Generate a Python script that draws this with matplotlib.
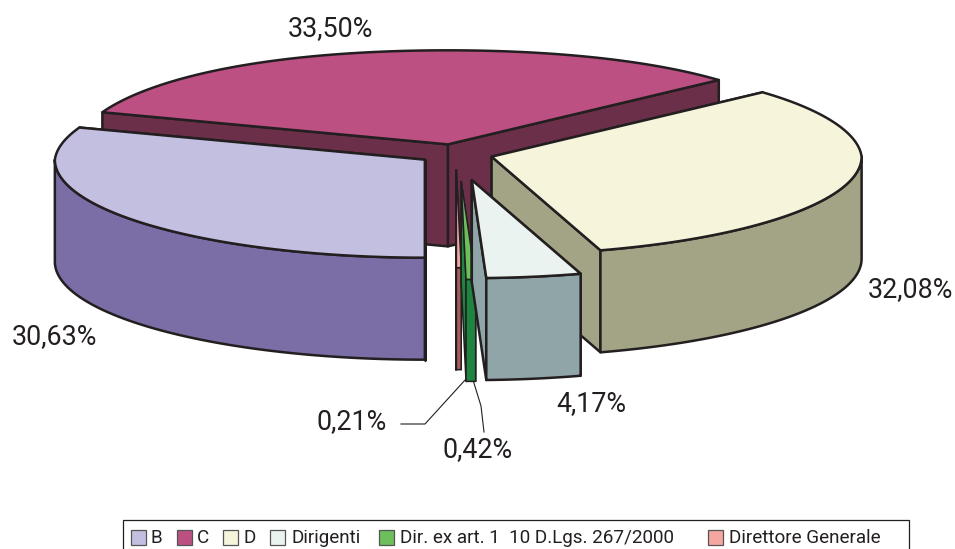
#!/usr/bin/env python3

import matplotlib
matplotlib.use('Agg')
import matplotlib.pyplot as plt
import numpy as np
from matplotlib.patches import Polygon, Rectangle

plt.rcParams['font.family'] = ['Roboto', 'Liberation Sans', 'DejaVu Sans']

categories = ['B', 'C', 'D', 'Dirigenti', 'Dir. ex art. 1  10 D.Lgs. 267/2000', 'Direttore Generale']
values = [30.63, 33.50, 32.08, 4.17, 0.42, 0.21]
top_colors = ['#C3BFE0', '#BC5083', '#F6F5DC', '#EBF3F1', '#6CBF5A', '#F4A7A0']
side_colors = ['#7B6DA5', '#6B2F4A', '#A3A385', '#8FA5A8', '#1F8440', '#A65C5C']
explode = [0.10, 0.10, 0.10, 0.27, 0.28, 0.16]
nudge_x = [0, 0, 1, 0, 3.5, 1]

# pie geometry, in pixels of the 955x549 picture
CX, CY = 455, 154
RX, RY = 370, 98
DEPTH = 102
START = -90.0
EDGE = '#231F20'
LW = 1.8


def point(apex, ang):
    a = np.radians(ang)
    s = np.sin(a)
    back = np.clip(s, 0, 1)
    # the back of the pie is a bit narrower and flatter, like the old 3D perspective
    x = RX * np.cos(a) * (1 - 0.035 * back)
    y = RY * s * (1 - 0.04 * back ** 4)
    return apex[0] + x, apex[1] - y


def arc(apex, a1, a2, drop=0):
    t = np.linspace(a1, a2, 90)
    x, y = point(apex, t)
    return np.column_stack([x, y + drop])


def add_poly(ax, pts, color, z, lw=LW):
    ax.add_patch(Polygon(pts, closed=True, facecolor=color, edgecolor=EDGE,
                         linewidth=lw, joinstyle='round', zorder=z))


def draw_slice(ax, a_hi, a_lo, explosion, shift, top, side, z):
    mid = np.radians((a_hi + a_lo) / 2)
    apex = (CX + shift + RX * explosion * np.cos(mid), CY - RY * explosion * np.sin(mid))
    # the thin slices would be all outline otherwise
    lw = LW if a_hi - a_lo > 5 else 1.1

    # cut faces, the one further back first
    for ang in sorted([a_hi, a_lo], key=lambda v: -np.sin(np.radians(v))):
        px, py = point(apex, ang)
        add_poly(ax, [apex, (px, py), (px, py + DEPTH), (apex[0], apex[1] + DEPTH)], side, z, lw)

    # outer wall, only the part that looks at the viewer
    for k in (-360, 0, 360):
        f1 = max(a_lo + k, -180)
        f2 = min(a_hi + k, 0)
        if f2 > f1:
            rim = np.vstack([arc(apex, f1, f2), arc(apex, f2, f1, DEPTH)])
            add_poly(ax, rim, side, z, lw)

    add_poly(ax, np.vstack([[apex], arc(apex, a_hi, a_lo)]), top, z, lw)


fig = plt.figure(figsize=(9.55, 5.49), dpi=100)
ax = fig.add_axes([0, 0, 1, 1])
ax.set_xlim(0, 955)
ax.set_ylim(549, 0)
ax.axis('off')

sweep = np.array(values) / sum(values) * 360
ends = START - np.cumsum(sweep)
starts = ends + sweep
# slices run clockwise from the front; back ones are painted first
for z, i in enumerate([1, 0, 2, 5, 4, 3]):
    draw_slice(ax, starts[i], ends[i], explode[i], nudge_x[i], top_colors[i], side_colors[i], z + 2)

label_pos = [(54, 337), (330, 29), (910, 290), (591, 404), (478, 450), (352, 422)]
for v, (x, y) in zip(values, label_pos):
    ax.text(x, y, f'{v:.2f}%'.replace('.', ','), fontsize=19.4, color='#231F20',
            ha='center', va='center', zorder=20)

# leader lines
ax.plot([401, 425, 466], [424, 424, 379], color=EDGE, lw=0.8, zorder=1)
ax.plot([473, 481, 484], [380, 406, 432], color=EDGE, lw=0.8, zorder=1)

# legend
ax.add_patch(Rectangle((122.5, 520), 786, 40, facecolor='white', edgecolor=EDGE, lw=0.9,
                       clip_on=True))
swatch_x = [131, 177, 223, 270, 379, 708]
text_x = [150, 197, 243, 291, 400, 729]
for sx, tx, name, col in zip(swatch_x, text_x, categories, top_colors):
    ax.add_patch(Rectangle((sx, 530), 15, 15, facecolor=col, edgecolor='#555555', lw=0.9, zorder=3))
    ax.text(tx, 538, name, fontsize=13.6, color='#231F20', ha='left', va='center', zorder=3)

fig.savefig('out.png', dpi=100)
